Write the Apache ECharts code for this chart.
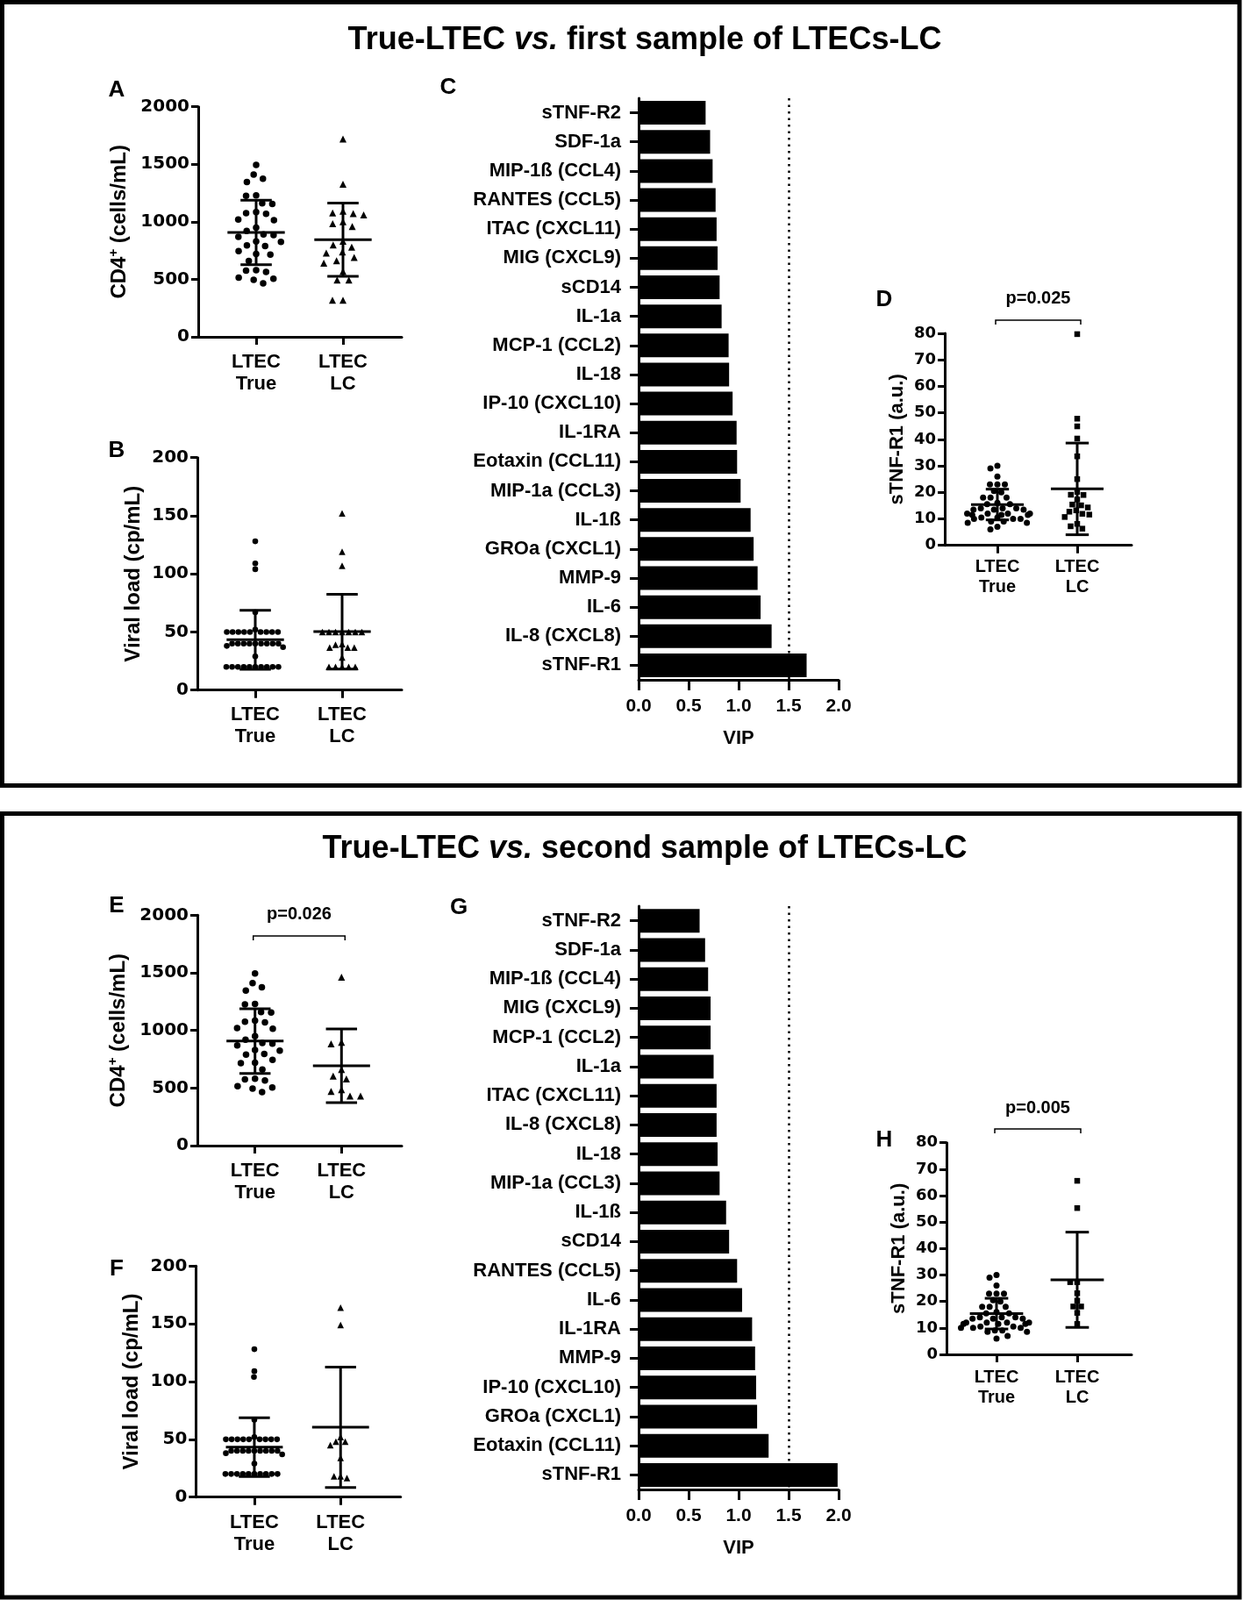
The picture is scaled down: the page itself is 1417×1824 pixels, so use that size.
<!DOCTYPE html>
<html>
<head>
<meta charset="utf-8">
<title>True-LTEC vs. LTECs-LC</title>
<script src="https://cdn.jsdelivr.net/npm/echarts@6.0.0/dist/echarts.min.js"></script>
<style>
  html, body { margin: 0; padding: 0; background: #fff; }
  #chart { width: 1417px; height: 1824px; }
</style>
</head>
<body>
<div id="chart"></div>
<script>
// ---- values ----
const groups = ['LTEC\nTrue', 'LTEC\nLC'];

// CD4+ (cells/mL)
const cd4True = [1495, 1410, 1375, 1345, 1230, 1225, 1160, 1155, 1085, 1075, 1070, 1020, 1015, 950, 920,
  890, 885, 870, 830, 825, 795, 790, 745, 720, 715, 660, 580, 575, 565, 515, 505, 495, 465];
const cd4LcFirst = [1720, 1326, 1093, 1077, 1072, 1060, 1001, 983, 958, 831, 798, 780, 737, 729, 691,
  661, 640, 569, 493, 493, 318, 318];
const cd4LcSecond = [1462, 896, 883, 660, 604, 579, 485, 470, 431, 431];
const cd4TrueStat = [907, 280];      // mean, SD
const cd4LcFirstStat = [844, 318];
const cd4LcSecondStat = [693, 319];

// viral load (cp/mL)
const vlTrue = [128, 109, 104, 67, 52, 50, 50, 50, 50, 50, 50, 50, 50, 50, 40, 40, 40, 40, 40, 40, 40, 40, 40,
  38, 37, 29, 20, 20, 20, 20, 20, 20, 20, 20, 20, 20];
const vlLcFirst = [152, 119, 107, 50, 50, 50, 50, 50, 50, 50, 39.5, 39, 36.5, 36.5, 36.5, 28, 20, 20, 20, 20, 20];
const vlLcSecond = [164, 149, 52, 48, 48, 45, 34, 18, 18, 16.5];
const vlTrueStat = [43.3, 25.4];
const vlLcFirstStat = [50.3, 32.2];
const vlLcSecondStat = [60.5, 52.1];

// sTNF-R1 (a.u.)
const stnfTrue = [30, 29, 26, 23, 23, 23, 20.5, 20, 18, 18, 18, 16, 15.5, 15.5, 14, 14, 14, 13.5, 13.5, 13.5,
  12, 12, 12, 12, 11.5, 11.5, 11.5, 10.5, 10.5, 10, 10, 10, 9, 9, 8.5, 8.5, 7, 6];
const stnfLcFirst = [79.7, 47.8, 44.9, 40.3, 33.6, 25, 20.2, 19.1, 19, 17.3, 15.4, 15.1, 14.3, 13.2, 12.7,
  11.9, 11.6, 10.7, 8.1, 7.2, 6.3];
const stnfLcSecond = [65.6, 55.3, 27.3, 27.3, 23.1, 20.3, 18.1, 18.1, 15.7, 11.5];
const stnfTrueStat = [15.4, 5.8];
const stnfLcFirstStat = [21.3, 17.3];
const stnfLcSecondStat = [28.2, 18];

// VIP scores
const vipFirstLabels = ['sTNF-R2', 'SDF-1a', 'MIP-1ß (CCL4)', 'RANTES (CCL5)', 'ITAC (CXCL11)', 'MIG (CXCL9)',
  'sCD14', 'IL-1a', 'MCP-1 (CCL2)', 'IL-18', 'IP-10 (CXCL10)', 'IL-1RA', 'Eotaxin (CCL11)', 'MIP-1a (CCL3)',
  'IL-1ß', 'GROa (CXCL1)', 'MMP-9', 'IL-6', 'IL-8 (CXCL8)', 'sTNF-R1'];
const vipFirstValues = [0.67, 0.715, 0.74, 0.77, 0.78, 0.79, 0.81, 0.83, 0.90, 0.905, 0.94, 0.98, 0.985, 1.02,
  1.12, 1.15, 1.19, 1.22, 1.33, 1.68];
const vipSecondLabels = ['sTNF-R2', 'SDF-1a', 'MIP-1ß (CCL4)', 'MIG (CXCL9)', 'MCP-1 (CCL2)', 'IL-1a',
  'ITAC (CXCL11)', 'IL-8 (CXCL8)', 'IL-18', 'MIP-1a (CCL3)', 'IL-1ß', 'sCD14', 'RANTES (CCL5)', 'IL-6',
  'IL-1RA', 'MMP-9', 'IP-10 (CXCL10)', 'GROa (CXCL1)', 'Eotaxin (CCL11)', 'sTNF-R1'];
const vipSecondValues = [0.61, 0.665, 0.695, 0.72, 0.72, 0.75, 0.78, 0.78, 0.79, 0.81, 0.875, 0.905, 0.985,
  1.035, 1.135, 1.165, 1.175, 1.185, 1.30, 1.99];
const vipThreshold = 1.5;

// ---- chart ----
const ARIAL = '"Liberation Sans", Arial, sans-serif';
const DEJAVU = '"DejaVu Sans", sans-serif';
const BLACK = '#000';

let grid = [], xAxis = [], yAxis = [], series = [];

function meanSdItem(capFrac) {
  return function (params, api) {
    let c = api.value(0), m = api.value(1), s = api.value(2);
    let mid = api.coord([c, m]);
    let hi = api.coord([c, m + s]);
    let lo = api.coord([c, m - s]);
    let band = api.size([1, 0])[0];
    let half = band * 0.33, cap = band * capFrac;
    let st = { stroke: BLACK, lineWidth: 3 };
    return {
      type: 'group',
      children: [
        { type: 'line', shape: { x1: mid[0] - half, y1: mid[1], x2: mid[0] + half, y2: mid[1] }, style: st },
        { type: 'line', shape: { x1: mid[0], y1: hi[1], x2: mid[0], y2: lo[1] }, style: st },
        { type: 'line', shape: { x1: mid[0] - cap, y1: hi[1], x2: mid[0] + cap, y2: hi[1] }, style: st },
        { type: 'line', shape: { x1: mid[0] - cap, y1: lo[1], x2: mid[0] + cap, y2: lo[1] }, style: st }
      ]
    };
  };
}

function bracketItem(text) {
  return function (params, api) {
    let a = api.coord([0, api.value(1)]);
    let b = api.coord([1, api.value(1)]);
    let x1 = a[0] - 2, x2 = b[0] + 4, y = a[1];
    let st = { stroke: BLACK, lineWidth: 1.5, fill: null };
    return {
      type: 'group',
      children: [
        { type: 'polyline', shape: { points: [[x1, y + 5], [x1, y], [x2, y], [x2, y + 5]] }, style: st },
        { type: 'text', style: { text: text, x: (x1 + x2) / 2, y: y - 24, align: 'center', verticalAlign: 'middle',
          fontFamily: ARIAL, fontWeight: 'bold', fontSize: 20, fill: BLACK } }
      ]
    };
  };
}

function dotPanel(p) {
  let fi = grid.length;
  grid.push({ left: p.left, top: p.top, width: p.width, height: p.height });
  xAxis.push({
    gridIndex: fi, type: 'value', min: 0, max: 1,
    axisLine: { show: true, lineStyle: { color: BLACK, width: 3 } },
    axisTick: { show: false }, axisLabel: { show: false }, splitLine: { show: false }
  });
  yAxis.push({
    gridIndex: fi, type: 'value', min: 0, max: p.yMax, interval: p.yStep,
    name: p.yName, nameLocation: 'middle', nameGap: p.nameGap,
    nameTextStyle: {
      color: BLACK, fontFamily: ARIAL, fontWeight: 'bold', fontSize: p.nameSize,
      rich: {
        a: { fontFamily: ARIAL, fontWeight: 'bold', fontSize: p.nameSize, lineHeight: 28, color: BLACK },
        s: { fontFamily: ARIAL, fontWeight: 'bold', fontSize: 15, lineHeight: 28, verticalAlign: 'top', color: BLACK }
      }
    },
    axisLine: { show: true, lineStyle: { color: BLACK, width: 3 } },
    axisTick: { show: true, length: 8, lineStyle: { color: BLACK, width: 3 } },
    axisLabel: { margin: 10, color: BLACK, fontFamily: DEJAVU, fontWeight: 'bold', fontSize: p.tickSize,
      formatter: v => String(v) },
    splitLine: { show: false }
  });

  let pi = grid.length;
  grid.push({ left: p.catLeft, top: p.top, width: p.catWidth, height: p.height });
  xAxis.push({
    gridIndex: pi, type: 'category', data: groups, boundaryGap: true,
    jitter: 88, jitterOverlap: false, jitterMargin: p.spread,
    axisLine: { show: false },
    axisTick: { show: true, alignWithLabel: true, length: 9, lineStyle: { color: BLACK, width: 3 } },
    axisLabel: { margin: p.catMargin, color: BLACK, fontFamily: ARIAL, fontWeight: 'bold',
      fontSize: p.catSize, lineHeight: p.catSize + 3, interval: 0 },
    splitLine: { show: false }
  });
  yAxis.push({ gridIndex: pi, type: 'value', min: 0, max: p.yMax, show: false });

  series.push({
    type: 'scatter', xAxisIndex: pi, yAxisIndex: pi, silent: true,
    symbol: 'circle', symbolSize: p.dot, itemStyle: { color: BLACK, opacity: 1 },
    data: p.trueVals.map(v => [0, v])
  });
  series.push({
    type: 'scatter', xAxisIndex: pi, yAxisIndex: pi, silent: true,
    symbol: p.lcSymbol, symbolSize: p.lcDot, itemStyle: { color: BLACK, opacity: 1 },
    data: p.lcVals.map(v => [1, v])
  });
  series.push({
    type: 'custom', xAxisIndex: pi, yAxisIndex: pi, silent: true, clip: false, z: 5,
    renderItem: meanSdItem(p.cap),
    data: [[0, p.trueStat[0], p.trueStat[1]], [1, p.lcStat[0], p.lcStat[1]]]
  });
  if (p.pText) {
    series.push({
      type: 'custom', xAxisIndex: pi, yAxisIndex: pi, silent: true, clip: false, z: 5,
      renderItem: bracketItem(p.pText),
      data: [[0, p.pLevel]]
    });
  }
}

function vipPanel(p) {
  let gi = grid.length;
  grid.push({ left: 728, top: p.top, width: 228, height: p.height });
  xAxis.push({
    gridIndex: gi, type: 'value', min: 0, max: 2, interval: 0.5,
    name: 'VIP', nameLocation: 'middle', nameGap: 56,
    nameTextStyle: { color: BLACK, fontFamily: ARIAL, fontWeight: 'bold', fontSize: 22 },
    axisLine: { show: true, lineStyle: { color: BLACK, width: 3 } },
    axisTick: { show: true, length: 12, lineStyle: { color: BLACK, width: 3 } },
    axisLabel: { margin: 20, color: BLACK, fontFamily: ARIAL, fontWeight: 'bold', fontSize: 21,
      formatter: v => v.toFixed(1) },
    splitLine: { show: false }
  });
  yAxis.push({
    gridIndex: gi, type: 'category', inverse: true, data: p.labels,
    axisLine: { show: true, lineStyle: { color: BLACK, width: 3 } },
    axisTick: { show: true, alignWithLabel: true, length: 10, lineStyle: { color: BLACK, width: 3 } },
    axisLabel: { margin: 20, interval: 0, color: BLACK, fontFamily: ARIAL, fontWeight: 'bold', fontSize: 22 },
    splitLine: { show: false }
  });
  series.push({
    type: 'bar', xAxisIndex: gi, yAxisIndex: gi, silent: true, barWidth: 27,
    itemStyle: { color: BLACK }, data: p.values,
    markLine: {
      silent: true, symbol: 'none', label: { show: false },
      lineStyle: { color: BLACK, width: 2.5, type: [2.5, 5] },
      data: [{ xAxis: vipThreshold }]
    }
  });
}

const cd4Name = '{a|CD4}{s|+}{a| (cells/mL)}';
const bigText = { tickSize: 20, catSize: 22, nameSize: 24, cap: 0.18 };
const smallText = { tickSize: 18, catSize: 20, nameSize: 22, cap: 0.145 };

// first sample
dotPanel(Object.assign({}, bigText, {
  left: 226, width: 232, top: 121.7, height: 262.3, catLeft: 242.5, catWidth: 198,
  yMax: 2000, yStep: 500, yName: cd4Name, nameGap: 76, catMargin: 16,
  trueVals: cd4True, lcVals: cd4LcFirst, trueStat: cd4TrueStat, lcStat: cd4LcFirstStat,
  dot: 7.5, lcSymbol: 'triangle', lcDot: 8, spread: 4
}));
dotPanel(Object.assign({}, bigText, {
  left: 225, width: 233, top: 521.7, height: 265, catLeft: 241.5, catWidth: 198,
  yMax: 200, yStep: 50, yName: 'Viral load (cp/mL)', nameGap: 61, catMargin: 16,
  trueVals: vlTrue, lcVals: vlLcFirst, trueStat: vlTrueStat, lcStat: vlLcFirstStat,
  dot: 6.6, lcSymbol: 'triangle', lcDot: 7.5, spread: 0
}));
dotPanel(Object.assign({}, smallText, {
  left: 1077, width: 213, top: 380, height: 241.7, catLeft: 1091.5, catWidth: 182,
  yMax: 80, yStep: 10, yName: 'sTNF-R1 (a.u.)', nameGap: 43, catMargin: 13,
  trueVals: stnfTrue, lcVals: stnfLcFirst, trueStat: stnfTrueStat, lcStat: stnfLcFirstStat,
  dot: 7, lcSymbol: 'rect', lcDot: 6.5, spread: 1.5, pText: 'p=0.025', pLevel: 85
}));
vipPanel({ top: 112, height: 663, labels: vipFirstLabels, values: vipFirstValues });

// second sample
dotPanel(Object.assign({}, bigText, {
  left: 225, width: 233, top: 1043.3, height: 262.7, catLeft: 241.4, catWidth: 197.2,
  yMax: 2000, yStep: 500, yName: cd4Name, nameGap: 76, catMargin: 16,
  trueVals: cd4True, lcVals: cd4LcSecond, trueStat: cd4TrueStat, lcStat: cd4LcSecondStat,
  dot: 7.5, lcSymbol: 'triangle', lcDot: 8, spread: 4, pText: 'p=0.026', pLevel: 1820
}));
dotPanel(Object.assign({}, bigText, {
  left: 223.3, width: 233.4, top: 1443.3, height: 263.4, catLeft: 240.8, catWidth: 196.6,
  yMax: 200, yStep: 50, yName: 'Viral load (cp/mL)', nameGap: 61, catMargin: 17,
  trueVals: vlTrue, lcVals: vlLcSecond, trueStat: vlTrueStat, lcStat: vlLcSecondStat,
  dot: 6.6, lcSymbol: 'triangle', lcDot: 7.5, spread: 0
}));
dotPanel(Object.assign({}, smallText, {
  left: 1079, width: 211, top: 1302.7, height: 241.3, catLeft: 1090, catWidth: 184,
  yMax: 80, yStep: 10, yName: 'sTNF-R1 (a.u.)', nameGap: 43, catMargin: 14.5,
  trueVals: stnfTrue, lcVals: stnfLcSecond, trueStat: stnfTrueStat, lcStat: stnfLcSecondStat,
  dot: 7, lcSymbol: 'rect', lcDot: 6.5, spread: 1.5, pText: 'p=0.005', pLevel: 85.2
}));
vipPanel({ top: 1033, height: 665, labels: vipSecondLabels, values: vipSecondValues });

// frames, titles, panel letters
function titleText(x, y, before, after) {
  let base = { fontFamily: ARIAL, fontWeight: 'bold', fontSize: 36, lineHeight: 40, fill: BLACK };
  return {
    type: 'text', x: x, y: y,
    style: {
      text: '{r|' + before + '}{i|vs.}{r|' + after + '}',
      align: 'center', verticalAlign: 'middle',
      rich: { r: base, i: Object.assign({}, base, { fontStyle: 'italic' }) }
    }
  };
}
function letter(t, x, y) {
  return { type: 'text', x: x, y: y,
    style: { text: t, align: 'center', verticalAlign: 'middle', fontFamily: ARIAL, fontWeight: 'bold',
      fontSize: 26, fill: BLACK } };
}

let graphic = [
  { type: 'rect', shape: { x: 2.5, y: 2.5, width: 1410.5, height: 893 }, style: { fill: null, stroke: BLACK, lineWidth: 5 } },
  { type: 'rect', shape: { x: 2.5, y: 927.5, width: 1410.5, height: 893.5 }, style: { fill: null, stroke: BLACK, lineWidth: 5 } },
  titleText(735, 46, 'True-LTEC ', ' first sample of LTECs-LC'),
  titleText(735, 968, 'True-LTEC ', ' second sample of LTECs-LC'),
  letter('A', 133, 103), letter('B', 133, 514), letter('C', 511, 100), letter('D', 1008, 342),
  letter('E', 133, 1033), letter('F', 133, 1447), letter('G', 523, 1035), letter('H', 1008, 1300)
];

let myChart = echarts.init(document.getElementById('chart'));
myChart.setOption({
  animation: false,
  backgroundColor: '#fff',
  graphic: graphic,
  grid: grid,
  xAxis: xAxis,
  yAxis: yAxis,
  series: series
});
</script>
</body>
</html>
